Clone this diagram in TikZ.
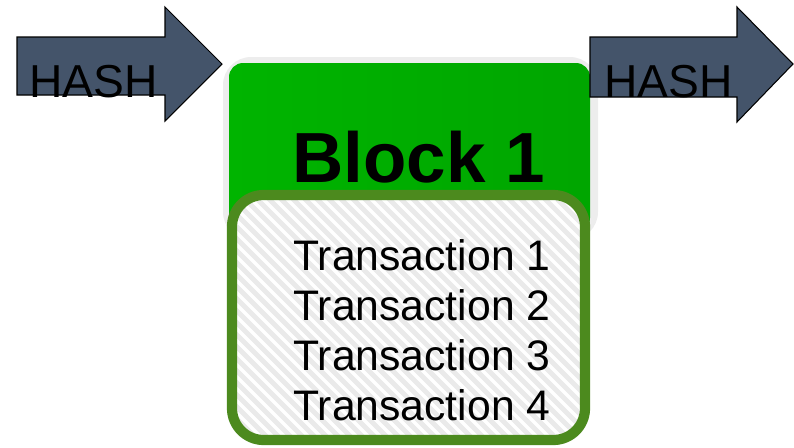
\documentclass[tikz,border=0pt]{standalone}
\usepackage{fontspec}
\setmainfont{Liberation Sans}
\usetikzlibrary{positioning}
\definecolor{hashblue}{HTML}{44546A}
\definecolor{blockgreen}{HTML}{00B400}
\definecolor{dkgreen}{HTML}{4C8A1E}
\definecolor{halo}{HTML}{EDEDED}
\definecolor{stripe}{HTML}{EAEAEA}

\begin{document}
\begin{tikzpicture}[
  x=0.02cm, y=-0.02cm,
  hasharrow/.style={fill=hashblue, draw=black, line width=0.6pt},
  hashtext/.style={font=\fontsize{26.3}{26.3}\selectfont, text=black, anchor=base west, inner sep=0pt},
  txtext/.style={font=\fontsize{24.3}{24.3}\selectfont, text=black, anchor=base west, inner sep=0pt},
]
\useasboundingbox (0,0) rectangle (794,447);

% Dimensions (pixels)
\pgfmathsetmacro{\linestep}{50}    % vertical step between transactions

% --- Left HASH arrow ---
\draw[hasharrow] (17,37) -- (165,37) -- (165,7) -- (222,64) -- (165,121)
  -- (165,95) -- (17,95) -- cycle;
\node[hashtext] (hashL) at (29,97) {HASH};

% --- Block: halo and green header ---
\fill[halo, rounded corners=16pt] (223,57) rectangle (598,240);
\shade[left color=blockgreen, right color=blockgreen!92!black, rounded corners=8pt]
  (229,63) rectangle (590,232);
\node[font=\fontsize{40.4}{40.4}\selectfont\bfseries, text=black, anchor=base west,
  inner sep=0pt] (title) at (292,182) {Block 1};

% --- Transaction box ---
\fill[white, rounded corners=18pt] (232,195) rectangle (585,440);
\begin{scope}
  \clip[rounded corners=18pt] (232,195) rectangle (585,440);
  \foreach \i in {-280,-268,...,600}
    \draw[stripe, line width=2.8pt] (\i,190) -- ++(260,260);
\end{scope}
\draw[dkgreen, line width=5.8pt, rounded corners=18pt] (232,195) rectangle (585,440);

\foreach \i in {1,...,4}
  \node[txtext] (tx\i) at (293,{270+(\i-1)*\linestep}) {Transaction \i};

% --- Right HASH arrow ---
\draw[hasharrow] (590,37) -- (737,37) -- (737,7) -- (793,64) -- (737,122)
  -- (737,97) -- (590,97) -- cycle;
\node[hashtext] (hashR) at (604,97) {HASH};

\end{tikzpicture}
\end{document}
